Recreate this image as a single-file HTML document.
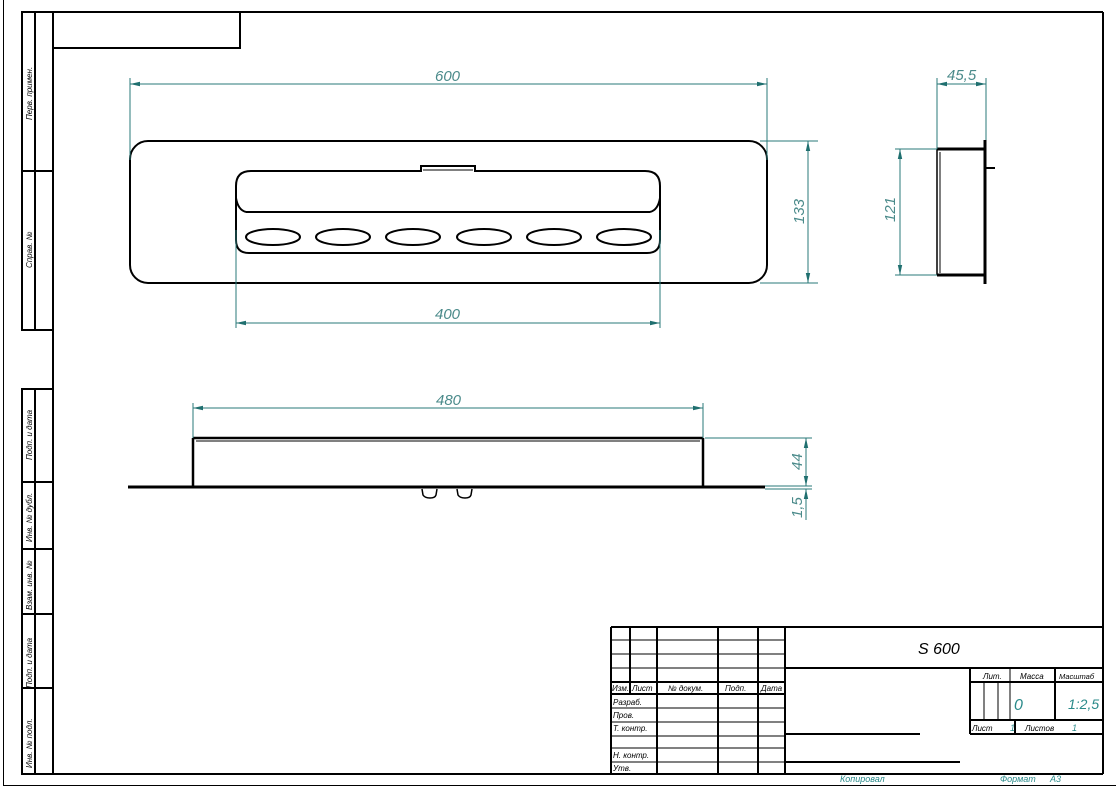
<!DOCTYPE html>
<html><head><meta charset="utf-8"><style>
html,body{margin:0;padding:0;background:#fff;}
svg{display:block;}
text{font-family:"Liberation Sans",sans-serif;font-style:italic;}
.d{stroke:#2a7a7a;stroke-width:1;fill:none;}
.dt{fill:#4a8a8a;font-size:15px;}
.k{stroke:#000;fill:none;}
.t{font-size:8px;fill:#000;}
.b{fill:#2a8a8a;font-size:9px;}
</style></head><body>
<svg width="1116" height="788" viewBox="0 0 1116 788" xmlns="http://www.w3.org/2000/svg">
<defs>
<marker id="a" viewBox="-10 0 10 6" refX="0" refY="3" markerWidth="10" markerHeight="6" orient="auto-start-reverse" markerUnits="userSpaceOnUse"><path d="M0,3 L-10,0.8 L-10,5.2 Z" fill="#1f6f6f"/></marker>
</defs>
<line x1="3.5" y1="0" x2="3.5" y2="786" stroke="#000" stroke-width="1"/>
<line x1="3" y1="785.5" x2="1116" y2="785.5" stroke="#000" stroke-width="1"/>
<g class="k" stroke-width="2">
<line x1="22" y1="12" x2="1103" y2="12"/>
<line x1="1103" y1="12" x2="1103" y2="774"/>
<line x1="53" y1="774" x2="1103" y2="774"/>
<line x1="53" y1="12" x2="53" y2="774"/>
<rect x="53" y="12" width="187" height="36"/>
<rect x="22" y="12" width="31" height="318"/>
<line x1="35" y1="12" x2="35" y2="330"/>
<line x1="22" y1="171" x2="53" y2="171"/>
<rect x="22" y="389" width="31" height="385"/>
<line x1="35" y1="389" x2="35" y2="774"/>
<line x1="22" y1="482" x2="53" y2="482"/>
<line x1="22" y1="549" x2="53" y2="549"/>
<line x1="22" y1="614" x2="53" y2="614"/>
<line x1="22" y1="688" x2="53" y2="688"/>
</g>
<g class="t">
<text transform="translate(32,120) rotate(-90)">Перв. примен.</text>
<text transform="translate(32,268) rotate(-90)">Справ. №</text>
<text transform="translate(32,460) rotate(-90)">Подп. и дата</text>
<text transform="translate(32,542) rotate(-90)">Инв. № дубл.</text>
<text transform="translate(32,610) rotate(-90)">Взам. инв. №</text>
<text transform="translate(32,688) rotate(-90)">Подп. и дата</text>
<text transform="translate(32,768) rotate(-90)">Инв. № подл.</text>
</g>

<g class="k" stroke-width="2">
<rect x="130" y="141" width="637" height="142" rx="18"/>
<path d="M251,171 L421,171 L421,166 L475,166 L475,171 L645,171 Q660,171 660,186 L660,240 Q660,253 647,253 L249,253 Q236,253 236,240 L236,186 Q236,171 251,171 Z"/>
<line x1="246" y1="212" x2="650" y2="212"/>
<path d="M236,198 Q238,210 246,212 M660,198 Q658,210 650,212"/>
<ellipse cx="273" cy="237" rx="27" ry="8"/>
<ellipse cx="343" cy="237" rx="27" ry="8"/>
<ellipse cx="413" cy="237" rx="27" ry="8"/>
<ellipse cx="484" cy="237" rx="27" ry="8"/>
<ellipse cx="554" cy="237" rx="27" ry="8"/>
<ellipse cx="624" cy="237" rx="27" ry="8"/>
</g>
<line x1="423" y1="170" x2="473" y2="170" stroke="#000" stroke-width="1"/>
<g class="d">
<line x1="130" y1="78" x2="130" y2="160"/>
<line x1="767" y1="78" x2="767" y2="160"/>
<line x1="130" y1="84" x2="767" y2="84" marker-start="url(#a)" marker-end="url(#a)"/>
<line x1="236" y1="230" x2="236" y2="328"/>
<line x1="660" y1="230" x2="660" y2="328"/>
<line x1="236" y1="323" x2="660" y2="323" marker-start="url(#a)" marker-end="url(#a)"/>
<line x1="760" y1="141" x2="818" y2="141"/>
<line x1="760" y1="283" x2="818" y2="283"/>
<line x1="808" y1="141" x2="808" y2="283" marker-start="url(#a)" marker-end="url(#a)"/>
</g>
<text class="dt" x="435" y="81">600</text>
<text class="dt" x="435" y="319">400</text>
<text class="dt" transform="translate(804,224) rotate(-90)">133</text>

<g class="k">
<line x1="937" y1="149" x2="985" y2="149" stroke-width="3"/>
<line x1="937" y1="275" x2="985" y2="275" stroke-width="3"/>
<line x1="937" y1="149" x2="937" y2="275" stroke-width="1.5"/>
<line x1="940" y1="152" x2="940" y2="273" stroke-width="1"/>
<line x1="985" y1="140" x2="985" y2="284" stroke-width="3"/>
<line x1="985" y1="168" x2="995" y2="168" stroke-width="2"/>
</g>
<g class="d">
<line x1="937" y1="78" x2="937" y2="149"/>
<line x1="986" y1="78" x2="986" y2="140"/>
<line x1="937" y1="84" x2="986" y2="84" marker-start="url(#a)" marker-end="url(#a)"/>
<line x1="895" y1="149" x2="937" y2="149"/>
<line x1="895" y1="275" x2="937" y2="275"/>
<line x1="900" y1="149" x2="900" y2="275" marker-start="url(#a)" marker-end="url(#a)"/>
</g>
<text class="dt" x="947" y="80">45,5</text>
<text class="dt" transform="translate(895,222) rotate(-90)">121</text>

<g class="k">
<line x1="193" y1="438" x2="703" y2="438" stroke-width="2.5"/>
<line x1="196" y1="441" x2="700" y2="441" stroke-width="1"/>
<line x1="193" y1="438" x2="193" y2="487" stroke-width="2.5"/>
<line x1="703" y1="438" x2="703" y2="487" stroke-width="2.5"/>
<line x1="128" y1="487" x2="765" y2="487" stroke-width="3"/>
<path d="M422,489 L423,495 Q425,498 430,498 Q435,498 436,495 L437,489" stroke-width="1.5"/>
<path d="M457,489 L458,495 Q460,498 465,498 Q470,498 471,495 L472,489" stroke-width="1.5"/>
</g>
<g class="d">
<line x1="193" y1="403" x2="193" y2="438"/>
<line x1="703" y1="403" x2="703" y2="438"/>
<line x1="193" y1="408" x2="703" y2="408" marker-start="url(#a)" marker-end="url(#a)"/>
<line x1="705" y1="438" x2="812" y2="438"/>
<line x1="765" y1="486" x2="812" y2="486"/>
<line x1="765" y1="489" x2="812" y2="489"/>
<line x1="806" y1="438" x2="806" y2="486" marker-start="url(#a)" marker-end="url(#a)"/>
<line x1="806" y1="489" x2="806" y2="520" marker-start="url(#a)"/>
</g>
<text class="dt" x="436" y="405">480</text>
<text class="dt" transform="translate(802,470) rotate(-90)">44</text>
<text class="dt" transform="translate(802,518) rotate(-90)">1,5</text>

<g class="k" stroke-width="2">
<line x1="611" y1="627" x2="1103" y2="627"/>
<line x1="611" y1="627" x2="611" y2="774"/>
<line x1="630" y1="627" x2="630" y2="694"/>
<line x1="657" y1="627" x2="657" y2="774"/>
<line x1="718" y1="627" x2="718" y2="774"/>
<line x1="758" y1="627" x2="758" y2="774"/>
<line x1="785" y1="627" x2="785" y2="774"/>
<line x1="611" y1="682" x2="785" y2="682"/>
<line x1="611" y1="694" x2="785" y2="694"/>
<line x1="785" y1="668" x2="1103" y2="668"/>
<line x1="970" y1="668" x2="970" y2="734"/>
<line x1="1055" y1="668" x2="1055" y2="720"/>
<line x1="970" y1="682" x2="1103" y2="682"/>
<line x1="970" y1="720" x2="1103" y2="720"/>
<line x1="970" y1="734" x2="1103" y2="734"/>
<line x1="1015" y1="720" x2="1015" y2="734"/>
<line x1="785" y1="734" x2="920" y2="734"/>
<line x1="785" y1="762" x2="960" y2="762"/>
</g>
<g class="k" stroke-width="1">
<line x1="611" y1="640" x2="785" y2="640"/>
<line x1="611" y1="654" x2="785" y2="654"/>
<line x1="611" y1="668" x2="785" y2="668"/>
<line x1="611" y1="708" x2="785" y2="708"/>
<line x1="611" y1="722" x2="785" y2="722"/>
<line x1="611" y1="736" x2="785" y2="736"/>
<line x1="611" y1="748" x2="785" y2="748"/>
<line x1="611" y1="762" x2="785" y2="762"/>
<line x1="1010" y1="668" x2="1010" y2="720"/>
<line x1="984" y1="682" x2="984" y2="720"/>
<line x1="998" y1="682" x2="998" y2="720"/>
</g>
<text x="918" y="654" font-size="16" fill="#000">S 600</text>
<g class="t">
<text x="612" y="691">Изм.</text><text x="632" y="691">Лист</text><text x="668" y="691">№ докум.</text><text x="725" y="691">Подп.</text><text x="761" y="691">Дата</text>
<text x="613" y="705">Разраб.</text><text x="613" y="718">Пров.</text><text x="613" y="731">Т. контр.</text>
<text x="613" y="758">Н. контр.</text><text x="613" y="771">Утв.</text>
<text x="983" y="679">Лит.</text><text x="1020" y="679">Масса</text><text x="1059" y="679" font-size="7.5">Масштаб</text>
<text x="972" y="731">Лист</text><text x="1025" y="731">Листов</text>
</g>
<text x="1014" y="710" font-size="16" fill="#2a8a8a">0</text>
<text x="1068" y="709" font-size="14" fill="#2a8a8a">1:2,5</text>
<text class="b" x="1010" y="731">1</text><text class="b" x="1072" y="731">1</text>
<text class="b" x="840" y="782">Копировал</text>
<text class="b" x="1000" y="782">Формат</text><text class="b" x="1050" y="782">A3</text>
</svg>
</body></html>
